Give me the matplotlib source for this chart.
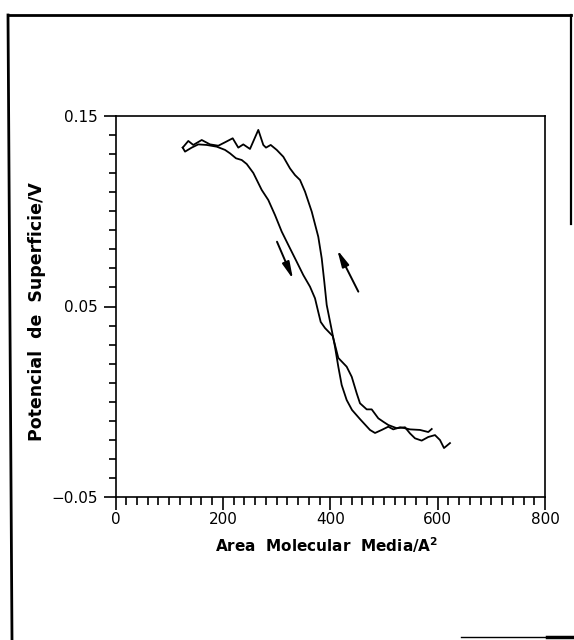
import matplotlib
matplotlib.use('Agg')
from matplotlib import pyplot as plt
from matplotlib.lines import Line2D
from matplotlib.ticker import MultipleLocator


# Potencial de superficie frente a area molecular media (ciclo de histeresis)

# curva de la derecha (con el pico arriba)
area_a = [125.2, 135.6, 144.9, 160.6, 176.0, 191.5, 204.0, 218.3, 228.7, 238.0,
          250.5, 266.0, 275.3, 280.3, 289.1, 300.3, 312.6, 325.0, 334.3, 343.7,
          353.0, 365.5, 377.7, 384.1, 388.9, 393.4, 402.7, 408.8, 415.0, 421.3,
          430.6, 440.5, 455.4, 474.0, 483.4, 495.8, 508.1, 517.4, 529.9, 539.2,
          548.5, 567.2, 582.6, 589.0]
pot_a = [0.1334, 0.1369, 0.1348, 0.1374, 0.1351, 0.1344, 0.1362, 0.1383, 0.1334, 0.1351,
         0.1327, 0.1427, 0.1348, 0.1334, 0.1348, 0.1322, 0.1286, 0.1225, 0.1190, 0.1164,
         0.1103, 0.0998, 0.0866, 0.0753, 0.0630, 0.0508, 0.0377, 0.0289, 0.0184, 0.0088,
         0.0009, -0.0043, -0.0091, -0.0148, -0.0164, -0.0148, -0.0131, -0.0145, -0.0134, -0.0139,
         -0.0145, -0.0148, -0.0159, -0.0143]

# curva de la izquierda (bajada mas suave)
area_b = [125.2, 129.5, 141.9, 154.2, 169.9, 188.5, 204.0, 213.3, 224.4, 235.1,
          244.4, 256.7, 272.3, 284.6, 297.1, 309.6, 321.9, 337.5, 349.8, 362.3,
          371.6, 377.7, 382.2, 390.2, 404.6, 415.0, 430.6, 440.0, 449.3, 455.4,
          467.9, 477.2, 489.5, 498.8, 508.1, 523.8, 539.2, 548.5, 557.9, 570.3,
          582.6, 595.1, 604.4, 611.9, 623.0]
pot_b = [0.1334, 0.1313, 0.1334, 0.1351, 0.1348, 0.1339, 0.1322, 0.1304, 0.1278, 0.1269,
         0.1248, 0.1201, 0.1112, 0.1059, 0.0980, 0.0893, 0.0823, 0.0735, 0.0665, 0.0604,
         0.0543, 0.0471, 0.0419, 0.0387, 0.0345, 0.0230, 0.0184, 0.0131, 0.0044, -0.0008,
         -0.0040, -0.0040, -0.0087, -0.0105, -0.0122, -0.0139, -0.0134, -0.0166, -0.0192, -0.0204,
         -0.0185, -0.0175, -0.0201, -0.0243, -0.0217]

# flechas: (inicio, punta)
arrow_down = [(300.8, 0.0840), (330.6, 0.0644)]
arrow_up = [(452.3, 0.0578), (413.1, 0.0797)]

xticks = [0, 200, 400, 600, 800]
yticks = [-0.05, 0.05, 0.15]
yticklabels = ['\u22120.05', '0.05', '0.15']

fig = plt.figure(figsize=(5.74, 6.4), dpi=100)
ax = fig.add_axes([115.5 / 574, 1 - 497 / 640, 429.5 / 574, 381 / 640])

ax.plot(area_a, pot_a, color='black', lw=1.3)
ax.plot(area_b, pot_b, color='black', lw=1.3)

for start, tip in [arrow_down, arrow_up]:
    ax.annotate('', xy=tip, xytext=start,
                arrowprops=dict(arrowstyle='-|>,head_length=1.0,head_width=0.22',
                                color='black', lw=1.4, shrinkA=0, shrinkB=0))

ax.set_xlim(0, 800)
ax.set_ylim(-0.05, 0.15)
ax.set_xticks(xticks)
ax.set_yticks(yticks)
ax.set_yticklabels(yticklabels)
ax.xaxis.set_minor_locator(MultipleLocator(20))
ax.yaxis.set_minor_locator(MultipleLocator(0.01))

ax.tick_params(axis='both', which='both', direction='out', width=1.2, colors='black')
ax.tick_params(axis='x', which='major', length=9, pad=1.5, labelsize=11)
ax.tick_params(axis='x', which='minor', length=6)
ax.tick_params(axis='y', which='major', length=9, pad=4, labelsize=11)
ax.tick_params(axis='y', which='minor', length=5)
ax.tick_params(top=False, right=False, which='both')
for s in ax.spines.values():
    s.set_linewidth(1.2)

fig.text(327 / 574, 1 - 545 / 640, r'Area  Molecular  Media/A$^{\mathbf{2}}$',
         ha='center', va='center', fontsize=11, fontweight='bold')
fig.text(37.5 / 574, 1 - 312 / 640, 'Potencial  de  Superficie/V',
         ha='center', va='center', rotation=90, fontsize=12.5, fontweight='bold')

# marco del recorte
def px_line(xs, ys, lw):
    fig.add_artist(Line2D([x / 574 for x in xs], [1 - y / 640 for y in ys],
                          color='black', lw=lw, transform=fig.transFigure))

px_line([8, 571], [15, 15], 2.0)
px_line([8, 12], [15, 640], 2.0)
px_line([571, 571], [15, 224], 1.6)
px_line([461, 574], [637, 637], 1.0)
px_line([547, 574], [637, 637], 2.5)

fig.savefig('out.png', dpi=100, facecolor='white')
